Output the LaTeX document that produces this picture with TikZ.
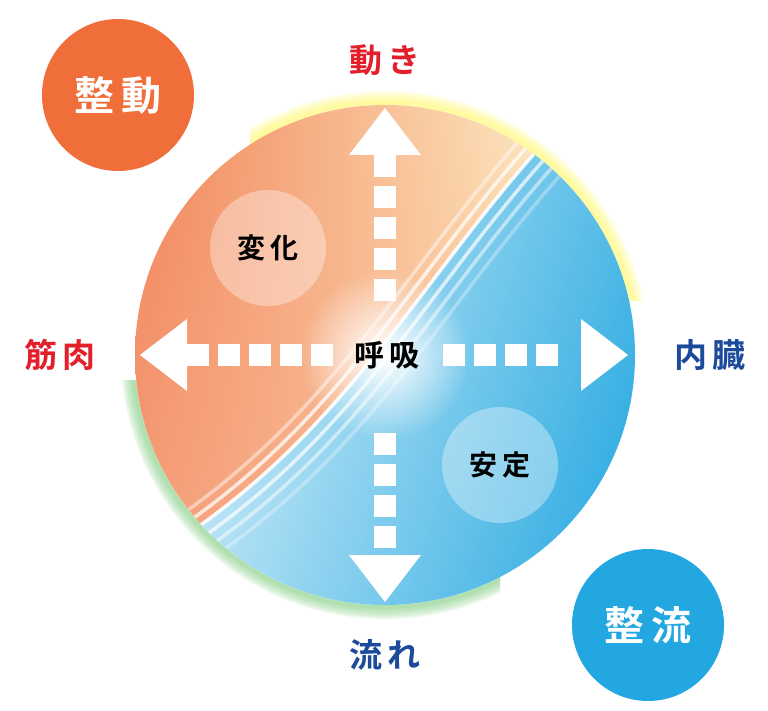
\documentclass[tikz,border=0pt]{standalone}
\usepackage{fontspec}
\newfontfamily\cjk{Noto Sans CJK JP}[BoldFont={* Bold}]
\usetikzlibrary{fadings,shadings,positioning}
\definecolor{dorange}{HTML}{EF6E3A}
\definecolor{dblue}{HTML}{22A7E0}
\definecolor{lred}{HTML}{E2202B}
\definecolor{lblue}{HTML}{1D4B9C}
\tikzfading[name=glow, inner color=transparent!0, outer color=transparent!100]
\begin{document}
\begin{tikzpicture}[x=1pt,y=-1pt,
    big/.style={circle, minimum size=152pt, text=white, font=\cjk\bfseries\fontsize{40}{40}\selectfont},
    side/.style={font=\cjk\bfseries\fontsize{33}{33}\selectfont},
    soft/.style={circle, minimum size=116pt, fill=white, fill opacity=0.35, text opacity=1, font=\cjk\bfseries\fontsize{28}{28}\selectfont},
    arr/.style={fill=white}
]
\useasboundingbox (0,0) rectangle (768,711);
\def\split{(130,570) .. controls (360,440) and (420,260) .. (590,95)}

% glow ring
\begin{scope}
  \clip (250,0) rectangle (768,300);
  \foreach \w in {4,8,12,16,20,24} \draw[yellow!60, opacity=0.15, line width=\w pt] (385,355) circle (252);
\end{scope}
\begin{scope}
  \clip (0,380) rectangle (500,711);
  \foreach \w in {4,8,12,16,20,24} \draw[green!60!black!50, opacity=0.15, line width=\w pt] (385,355) circle (252);
\end{scope}

% halves
\begin{scope}
  \clip (385,355) circle (250);
  \fill[white] (135,105) rectangle (635,605);
  \begin{scope}
    \clip \split -- (0,0) -- cycle;
    \shade[upper left=dorange!85, lower left=dorange!65, upper right=yellow!15, lower right=orange!35] (135,105) rectangle (635,605);
  \end{scope}
  \begin{scope}
    \clip \split -- (768,711) -- cycle;
    \shade[upper left=white, lower right=dblue, upper right=dblue!75, lower left=dblue!25] (135,105) rectangle (635,605);
  \end{scope}
  \foreach \d/\o in {-14/0.45,-7/0.75,0/0.9,8/0.7,16/0.5,24/0.3} {
    \draw[white, line width=3.5pt, opacity=\o, xshift=\d, yshift=-\d] \split;
  }
\end{scope}

% sub circles
\node[soft] (change) at (268,248) {変\,化};
\node[soft] (steady) at (500,465) {安\,定};

% centre glow
\fill[white, path fading=glow] (385,355) circle (85);

% arrows
\fill[arr] (385,108) -- (421,155) -- (349,155) -- cycle;
\fill[arr] (385,602) -- (421,555) -- (349,555) -- cycle;
\fill[arr] (140,355) -- (187,319) -- (187,391) -- cycle;
\fill[arr] (628,355) -- (581,319) -- (581,391) -- cycle;
\foreach \y in {155,186,217,248,279} \fill[arr] (374,\y) rectangle (396,\y+22);
\foreach \y in {433,464,495,526} \fill[arr] (374,\y) rectangle (396,\y+22);
\foreach \x in {187,218,249,280,311} \fill[arr] (\x,344) rectangle (\x+22,366);
\foreach \x in {443,474,505,536} \fill[arr] (\x,344) rectangle (\x+22,366);

\node[font=\cjk\bfseries\fontsize{30}{30}\selectfont] (breath) at (387,355) {呼\,吸};

% labels
\node[side, text=lred] (move) at (385,60) {動\,き};
\node[side, text=lred] (muscle) at (60,355) {筋\,肉};
\node[side, text=lblue] (organ) at (710,355) {内\,臓};
\node[side, text=lblue] (flow) at (385,655) {流\,れ};

\node[big, fill=dorange] (seido) at (118,95) {整\,動};
\node[big, fill=dblue] (seiryu) at (648,625) {整\,流};
\end{tikzpicture}
\end{document}
